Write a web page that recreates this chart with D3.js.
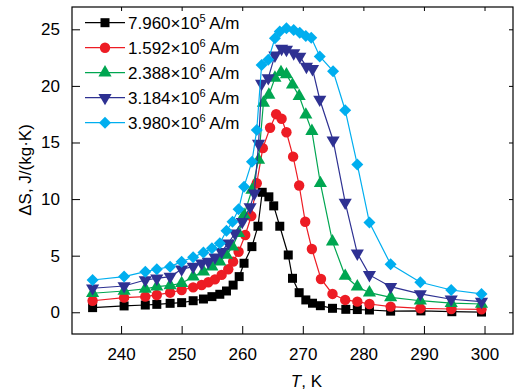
<!DOCTYPE html>
<html>
<head>
<meta charset="utf-8">
<script src="https://cdn.jsdelivr.net/npm/d3@7"></script>
<style>
  body { margin: 0; background: #fff; }
  svg { display: block; font-family: "Liberation Sans", Arial, sans-serif; }
</style>
</head>
<body>
<div id="chart"></div>
<script>
// legend labels (mantissa x 10^exp A/m)
const fieldMantissa = ["7.960", "1.592", "2.388", "3.184", "3.980"];
const fieldExponent = ["5", "6", "6", "6", "6"];

// temperatures (K) and -dS values (J/(kg K))
const tempBlack = [235.3, 240.5, 244.0, 245.9, 248.1, 250.0, 251.9, 253.6, 255.0, 256.3, 257.4, 258.5, 259.5, 260.3, 261.6, 262.6, 263.3, 264.4, 265.2, 266.2, 267.6, 268.3, 269.4, 270.5, 271.6, 272.9, 274.9, 277.1, 279.0, 281.0, 284.5, 289.5, 294.6, 299.5];
const dsBlack = [0.41, 0.56, 0.64, 0.70, 0.79, 0.85, 1.02, 1.17, 1.38, 1.59, 1.88, 2.4, 3.15, 4.33, 5.8, 7.6, 10.6, 10.2, 9.4, 7.6, 5.06, 3.0, 1.73, 1.09, 0.8, 0.58, 0.35, 0.26, 0.24, 0.2, 0.1, 0.12, 0.05, 0.02];

const tempRed = [235.3, 240.5, 244.0, 245.9, 248.1, 250.0, 251.9, 253.3, 254.4, 255.5, 256.6, 257.7, 258.5, 259.4, 260.5, 261.5, 262.4, 263.4, 264.6, 265.6, 266.5, 267.3, 268.4, 269.4, 270.4, 271.5, 273.0, 274.9, 277.0, 279.0, 281.0, 284.5, 289.4, 294.5, 299.5];
const dsRed = [1.02, 1.29, 1.38, 1.53, 1.73, 1.97, 2.2, 2.41, 2.65, 2.91, 3.3, 3.8, 4.47, 5.35, 6.83, 8.5, 11.4, 14.5, 16.3, 17.5, 17.1, 15.9, 13.75, 11.2, 8.0, 5.59, 2.94, 1.62, 1.09, 0.94, 0.73, 0.5, 0.35, 0.29, 0.26];

const tempGreen = [235.3, 240.5, 244.0, 245.9, 248.1, 250.0, 251.9, 253.6, 255.0, 256.3, 257.4, 258.4, 259.4, 260.3, 261.6, 262.7, 263.5, 264.4, 265.4, 266.4, 267.3, 268.3, 269.4, 270.5, 271.5, 272.9, 274.9, 277.0, 279.0, 281.0, 284.5, 289.4, 294.5, 299.5];
const dsGreen = [1.68, 1.88, 2.06, 2.26, 2.38, 2.56, 3.15, 3.59, 4.03, 4.47, 5.06, 5.8, 6.98, 8.6, 10.8, 13.45, 18.5, 19.2, 20.7, 21.2, 21.0, 20.1, 19.1, 17.45, 16.0, 11.4, 6.24, 3.2, 2.26, 1.73, 1.32, 1.02, 0.8, 0.73];

const tempNavy = [235.3, 240.5, 244.0, 245.9, 248.1, 250.0, 251.9, 253.3, 254.4, 255.5, 256.6, 257.7, 258.8, 260.0, 261.3, 262.0, 262.7, 263.2, 264.3, 265.4, 266.5, 267.3, 268.5, 269.5, 270.6, 271.6, 272.8, 275.0, 277.0, 279.0, 281.0, 284.5, 289.4, 294.5, 299.5];
const dsNavy = [2.12, 2.32, 2.85, 3.0, 3.15, 3.8, 4.03, 4.33, 4.47, 4.86, 5.35, 6.1, 6.98, 8.0, 9.3, 10.5, 14.9, 20.2, 20.7, 22.7, 23.3, 23.2, 22.9, 22.6, 21.7, 21.5, 18.8, 15.2, 9.7, 5.21, 3.3, 2.26, 1.62, 1.15, 0.94];

const tempBlue = [235.3, 240.5, 244.0, 245.9, 248.1, 250.0, 251.9, 253.6, 255.0, 256.3, 257.4, 258.4, 259.4, 260.3, 261.6, 262.4, 263.2, 264.3, 265.4, 266.2, 267.3, 268.5, 269.5, 270.5, 271.4, 272.8, 275.0, 277.0, 279.0, 281.0, 284.5, 289.4, 294.5, 299.5];
const dsBlue = [2.85, 3.15, 3.59, 3.8, 4.03, 4.47, 4.86, 5.27, 5.65, 6.1, 7.2, 8.0, 9.1, 11.1, 13.3, 16.1, 21.85, 22.3, 24.2, 24.8, 25.1, 24.94, 24.7, 24.4, 24.26, 22.6, 21.3, 17.85, 13.05, 7.92, 4.24, 2.65, 1.97, 1.62];

const xTicks = [240, 250, 260, 270, 280, 290, 300];
const yTicks = [0, 5, 10, 15, 20, 25];

class DsChart {
  constructor(_config, _data) {
    this.config = {
      parentElement: _config.parentElement,
      containerWidth: 515,
      containerHeight: 392,
      margin: { top: 7, right: 2, bottom: 58, left: 72 },
    };
    this.data = _data;
    this.initVis();
  }

  initVis() {
    let vis = this;

    vis.width =
      vis.config.containerWidth - vis.config.margin.left - vis.config.margin.right;
    vis.height =
      vis.config.containerHeight - vis.config.margin.top - vis.config.margin.bottom;

    vis.svg = d3
      .select(vis.config.parentElement)
      .append("svg")
      .attr("width", vis.config.containerWidth)
      .attr("height", vis.config.containerHeight);

    vis.chart = vis.svg
      .append("g")
      .attr("transform", `translate(${vis.config.margin.left},${vis.config.margin.top})`);

    vis.xScale = d3.scaleLinear().domain([231.9, 304.7]).range([0, vis.width]);
    vis.yScale = d3.scaleLinear().domain([-1.92, 26.97]).range([vis.height, 0]);

    vis.renderVis();
  }

  renderVis() {
    let vis = this;

    // axes: long ticks on bottom/left, short mirrored ticks top/right, all pointing inward
    vis.chart
      .append("g")
      .attr("transform", `translate(0,${vis.height})`)
      .call(d3.axisBottom(vis.xScale).tickValues(xTicks).tickSizeInner(-8).tickSizeOuter(0).tickPadding(14));
    vis.chart
      .append("g")
      .call(d3.axisLeft(vis.yScale).tickValues(yTicks).tickSizeInner(-8).tickSizeOuter(0).tickPadding(12));
    vis.chart
      .append("g")
      .call(d3.axisTop(vis.xScale).tickValues(xTicks).tickSizeInner(-4).tickSizeOuter(0).tickFormat(""));
    vis.chart
      .append("g")
      .attr("transform", `translate(${vis.width},0)`)
      .call(d3.axisRight(vis.yScale).tickValues(yTicks).tickSizeInner(-4).tickSizeOuter(0).tickFormat(""));

    vis.chart.selectAll(".domain").remove();
    vis.chart.selectAll(".tick line").attr("stroke", "#000").attr("stroke-width", 1);
    vis.chart
      .selectAll(".tick text")
      .attr("font-size", 17)
      .attr("font-family", "Liberation Sans, Arial, sans-serif")
      .attr("fill", "#000");

    // frame
    vis.chart
      .append("rect")
      .attr("width", vis.width)
      .attr("height", vis.height)
      .attr("fill", "none")
      .attr("stroke", "#000")
      .attr("stroke-width", 1.2);

    // axis titles
    const xTitle = vis.svg
      .append("text")
      .attr("x", vis.config.margin.left + vis.xScale(270.6))
      .attr("y", 387)
      .attr("text-anchor", "middle")
      .attr("font-size", 17);
    xTitle.append("tspan").attr("font-style", "italic").text("T");
    xTitle.append("tspan").text(", K");

    vis.svg
      .append("text")
      .attr("transform", "translate(31,170) rotate(-90)")
      .attr("text-anchor", "middle")
      .attr("font-size", 17)
      .text("ΔS, J/(kg·K)");

    const line = d3
      .line()
      .x((d) => vis.xScale(d[0]))
      .y((d) => vis.yScale(d[1]));

    // series
    vis.data.forEach((s) => {
      const pts = s.temps.map((t, i) => [t, s.values[i]]);
      const g = vis.chart.append("g");
      g.append("path")
        .attr("d", line(pts))
        .attr("fill", "none")
        .attr("stroke", s.color)
        .attr("stroke-width", 1.2);
      g.selectAll("path.mark")
        .data(pts)
        .join("path")
        .attr("class", "mark")
        .attr("d", d3.symbol().type(s.symbol).size(s.size))
        .attr("transform", (d) => `translate(${vis.xScale(d[0])},${vis.yScale(d[1])}) rotate(${s.rotate})`)
        .attr("fill", s.color);
    });

    // legend
    const legend = vis.svg.append("g");
    vis.data.forEach((s, i) => {
      const y = 22.7 + i * 25;
      legend
        .append("line")
        .attr("x1", 85)
        .attr("x2", 125)
        .attr("y1", y)
        .attr("y2", y)
        .attr("stroke", s.color)
        .attr("stroke-width", 1.2);
      legend
        .append("path")
        .attr("d", d3.symbol().type(s.symbol).size(s.size))
        .attr("transform", `translate(105,${y}) rotate(${s.rotate})`)
        .attr("fill", s.color);
      const t = legend
        .append("text")
        .attr("x", 128)
        .attr("y", y + 6)
        .attr("font-size", 17);
      t.append("tspan").text(fieldMantissa[i] + "×10");
      t.append("tspan").attr("dy", -7).attr("font-size", 11).text(fieldExponent[i]);
      t.append("tspan").attr("dy", 7).text(" A/m");
    });
  }
}

const series = [
  { temps: tempBlack, values: dsBlack, color: "#000000", symbol: d3.symbolSquare, size: 81, rotate: 0 },
  { temps: tempRed, values: dsRed, color: "#ed1c24", symbol: d3.symbolCircle, size: 85, rotate: 0 },
  { temps: tempGreen, values: dsGreen, color: "#00a651", symbol: d3.symbolTriangle, size: 75, rotate: 0 },
  { temps: tempNavy, values: dsNavy, color: "#2e3192", symbol: d3.symbolTriangle, size: 75, rotate: 180 },
  { temps: tempBlue, values: dsBlue, color: "#00aeef", symbol: d3.symbolSquare, size: 72, rotate: 45 },
];

new DsChart({ parentElement: "#chart" }, series);
</script>
</body>
</html>
